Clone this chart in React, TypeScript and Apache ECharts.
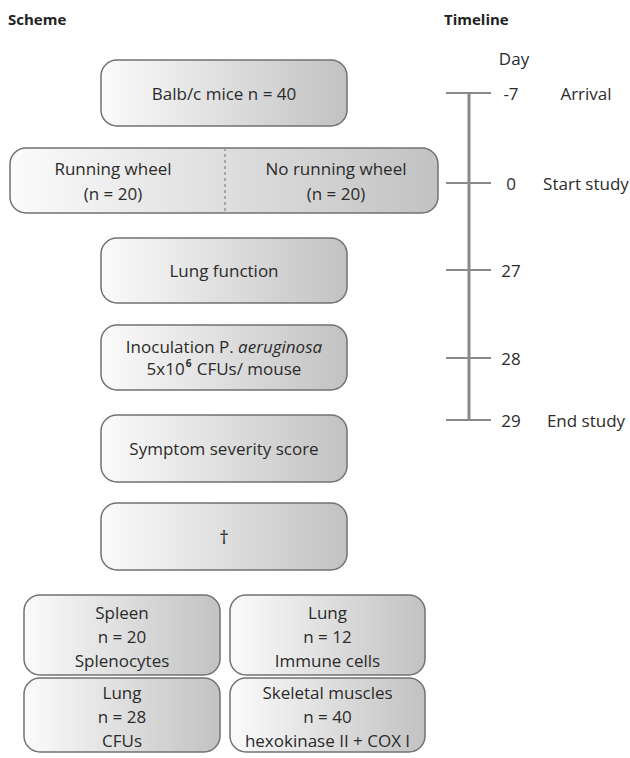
import React, { useEffect, useRef } from "react";
import * as echarts from "echarts";

// ---- data (texts) ----
const headers = ["Scheme", "Timeline"];
const dayTitle = "Day";
const dayLabels = ["-7", "0", "27", "28", "29"];
const eventLabels = ["Arrival", "Start study", "", "", "End study"];
const singleBoxTexts = ["Balb/c mice n = 40", "Lung function", "Symptom severity score", "\u2020"];
const groupTexts = [["Running wheel", "(n = 20)"], ["No running wheel", "(n = 20)"]];
const outcomeTexts = [
  ["Spleen", "n = 20", "Splenocytes"],
  ["Lung", "n = 12", "Immune cells"],
  ["Lung", "n = 28", "CFUs"],
  ["Skeletal muscles", "n = 40", "hexokinase II + COX I"],
];

// ---- layout ----
const tickYs = [93, 183, 270, 358, 420];
const singleBoxRects = [
  [101, 60, 246, 66],
  [101, 238, 246, 65],
  [101, 415, 246, 67],
  [101, 503, 246, 67],
];
const groupRect = [10, 148, 428, 65];
const inocRect = [101, 325, 246, 65];
const outcomeRects = [
  [24, 595, 196, 80],
  [230, 595, 195, 80],
  [24, 678, 196, 74],
  [230, 678, 195, 74],
];

const FONT = "'Open Sans', 'Noto Sans', sans-serif";
const TXT = "#2b2b2b";
const FS = 17;

function boxGrad() {
  return new echarts.graphic.LinearGradient(0, 0, 1, 0, [
    { offset: 0, color: "#fbfbfb" },
    { offset: 1, color: "#c2c2c2" },
  ]);
}

function box(r: number[], radius = 16) {
  return {
    type: "rect",
    shape: { x: r[0], y: r[1], width: r[2], height: r[3], r: radius },
    style: { fill: boxGrad(), stroke: "#727272", lineWidth: 1.5 },
  };
}

function txt(text: string, x: number, y: number, extra: any = {}) {
  return {
    type: "text",
    style: {
      text,
      x,
      y,
      fill: TXT,
      fontFamily: FONT,
      fontSize: FS,
      align: "center",
      verticalAlign: "middle",
      ...extra,
    },
  };
}

export default function App() {
  const ref = useRef<HTMLDivElement>(null);
  useEffect(() => {
    document.body.style.margin = "0";
    const chart = echarts.init(ref.current!, null, { renderer: "svg" });
    const els: any[] = [];

    // headers
    els.push(txt(headers[0], 8, 19, { align: "left", fontWeight: "bold", fontSize: 15, fill: "#222" }));
    els.push(txt(headers[1], 444, 19, { align: "left", fontWeight: "bold", fontSize: 15, fill: "#222" }));

    // single boxes
    singleBoxRects.forEach((r, i) => {
      els.push(box(r));
      els.push(txt(singleBoxTexts[i], r[0] + r[2] / 2, r[1] + r[3] / 2, i === 3 ? { fontSize: 19 } : {}));
    });

    // group box
    els.push(box(groupRect));
    els.push({
      type: "line",
      shape: { x1: 225, y1: groupRect[1], x2: 225, y2: groupRect[1] + groupRect[3] },
      style: { stroke: "#8a8a8a", lineWidth: 1.3, lineDash: [3, 3] },
    });
    const gcx = [113, 336];
    groupTexts.forEach((lines, i) => {
      els.push(txt(lines.join("\n"), gcx[i], groupRect[1] + groupRect[3] / 2, { lineHeight: 25 }));
    });

    // inoculation box
    els.push(box(inocRect));
    els.push({
      type: "text",
      style: {
        x: inocRect[0] + inocRect[2] / 2,
        y: inocRect[1] + inocRect[3] / 2,
        align: "center",
        verticalAlign: "middle",
        text: "{n|Inoculation P. }{i|aeruginosa}\n{n|5x10}{s|6}{n| CFUs/ mouse}",
        fill: TXT,
        fontFamily: FONT,
        fontSize: FS,
        rich: {
          n: { fontSize: FS, fontFamily: FONT, fill: TXT, lineHeight: 22 },
          i: { fontSize: FS, fontFamily: FONT, fill: TXT, fontStyle: "italic", lineHeight: 22 },
          s: {
            fontSize: 10,
            fontFamily: FONT,
            fill: TXT,
            fontWeight: "bold",
            lineHeight: 10,
            verticalAlign: "top",
            padding: [0, 1, 0, 1],
          },
        },
      },
    });

    // outcome boxes
    outcomeRects.forEach((r, i) => {
      els.push(box(r));
      els.push(txt(outcomeTexts[i].join("\n"), r[0] + r[2] / 2, r[1] + r[3] / 2 + 1, { lineHeight: 24 }));
    });

    // timeline
    els.push({
      type: "line",
      shape: { x1: 469, y1: tickYs[0], x2: 469, y2: tickYs[tickYs.length - 1] },
      style: { stroke: "#8a8a8a", lineWidth: 3 },
    });
    els.push(txt(dayTitle, 514, 58));
    tickYs.forEach((y, i) => {
      els.push({
        type: "line",
        shape: { x1: 446, y1: y, x2: 491, y2: y },
        style: { stroke: "#8a8a8a", lineWidth: 2 },
      });
      els.push(txt(dayLabels[i], 511, y));
      if (eventLabels[i]) els.push(txt(eventLabels[i], 586, y));
    });

    chart.setOption({ animation: false, graphic: { elements: els } });
    return () => chart.dispose();
  }, []);
  return <div ref={ref} style={{ width: 630, height: 758 }} />;
}
